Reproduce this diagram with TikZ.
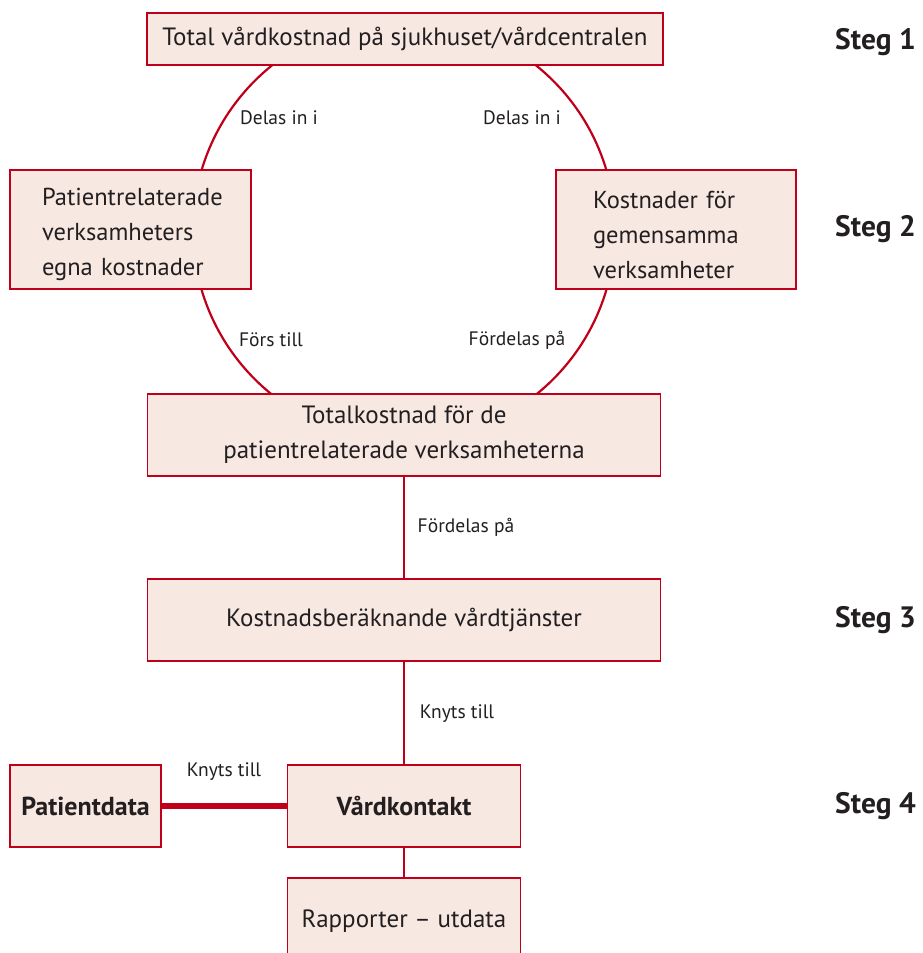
\documentclass[tikz,border=0pt]{standalone}
\usepackage{fontspec}
\setmainfont{PT Sans}
\definecolor{dred}{HTML}{C0001A}
\definecolor{boxfill}{HTML}{F8E8E2}
\definecolor{ink}{HTML}{231F20}
\begin{document}
\begin{tikzpicture}[x=1pt,y=-1pt,
  box/.style={draw=dred, fill=boxfill, line width=1.5pt, inner sep=0pt, align=center, text=ink,
    font=\fontsize{25}{35}\selectfont},
  lbl/.style={text=ink, font=\fontsize{19.5}{22}\selectfont, inner sep=0pt},
  steglbl/.style={text=ink, font=\fontsize{29.5}{32}\selectfont\bfseries, anchor=west, inner sep=0pt},
  conn/.style={draw=dred, line width=2.2pt}]
\clip (0,0) rectangle (922,953);
\fill[white] (0,0) rectangle (922,953);
\coordinate (cc) at (404,230);
\draw[conn] (cc) circle (211);
\node[box, minimum width=516pt, minimum height=52pt] (top) at (405,39) {Total vårdkostnad på sjukhuset/vårdcentralen};
\node[box, minimum width=241pt, minimum height=119pt, text width=177pt, align=left, font=\fontsize{24.5}{35}\selectfont] (left) at (130.5,229.5) {\rule{0pt}{28pt}Patientrelaterade\\verksamheters\\egna kostnader};
\node[box, minimum width=240pt, minimum height=119pt, text width=166pt, align=left, font=\fontsize{24.5}{35}\selectfont] (right) at (676,229.5) {\rule{0pt}{28pt}Kostnader för\\gemensamma\\verksamheter};
\node[box, minimum width=513pt, minimum height=82pt] (total) at (404,435) {Totalkostnad för de\\patientrelaterade verksamheterna};
\node[box, minimum width=513pt, minimum height=82pt] (kost) at (404,620) {Kostnadsberäknande vårdtjänster};
\node[box, minimum width=233pt, minimum height=82pt, font=\fontsize{26}{35}\selectfont\bfseries] (vard) at (404,806) {Vårdkontakt};
\node[box, minimum width=151pt, minimum height=82pt, font=\fontsize{26}{35}\selectfont\bfseries] (pat) at (85.5,806) {Patientdata};
\node[box, minimum width=233pt, minimum height=86pt] (rap) at (404,921) {Rapporter – utdata};
\draw[conn] (total) -- (kost);
\draw[conn] (kost) -- (vard);
\draw[conn] (vard) -- (rap);
\draw[draw=dred, line width=5.5pt] (pat) -- (vard);
\node[lbl] (l1) at (279,118) {Delas in i};
\node[lbl] (l2) at (522,118) {Delas in i};
\node[lbl] (l3) at (271,340) {Förs till};
\node[lbl] (l4) at (517,340) {Fördelas på};
\node[lbl] (l5) at (466,527) {Fördelas på};
\node[lbl] (l6) at (457,714) {Knyts till};
\node[lbl] (l7) at (224,772) {Knyts till};
\node[steglbl] (s1) at (835,42) {Steg 1};
\node[steglbl] (s2) at (835,229) {Steg 2};
\node[steglbl] (s3) at (835,620) {Steg 3};
\node[steglbl] (s4) at (835,806) {Steg 4};
\end{tikzpicture}
\end{document}
